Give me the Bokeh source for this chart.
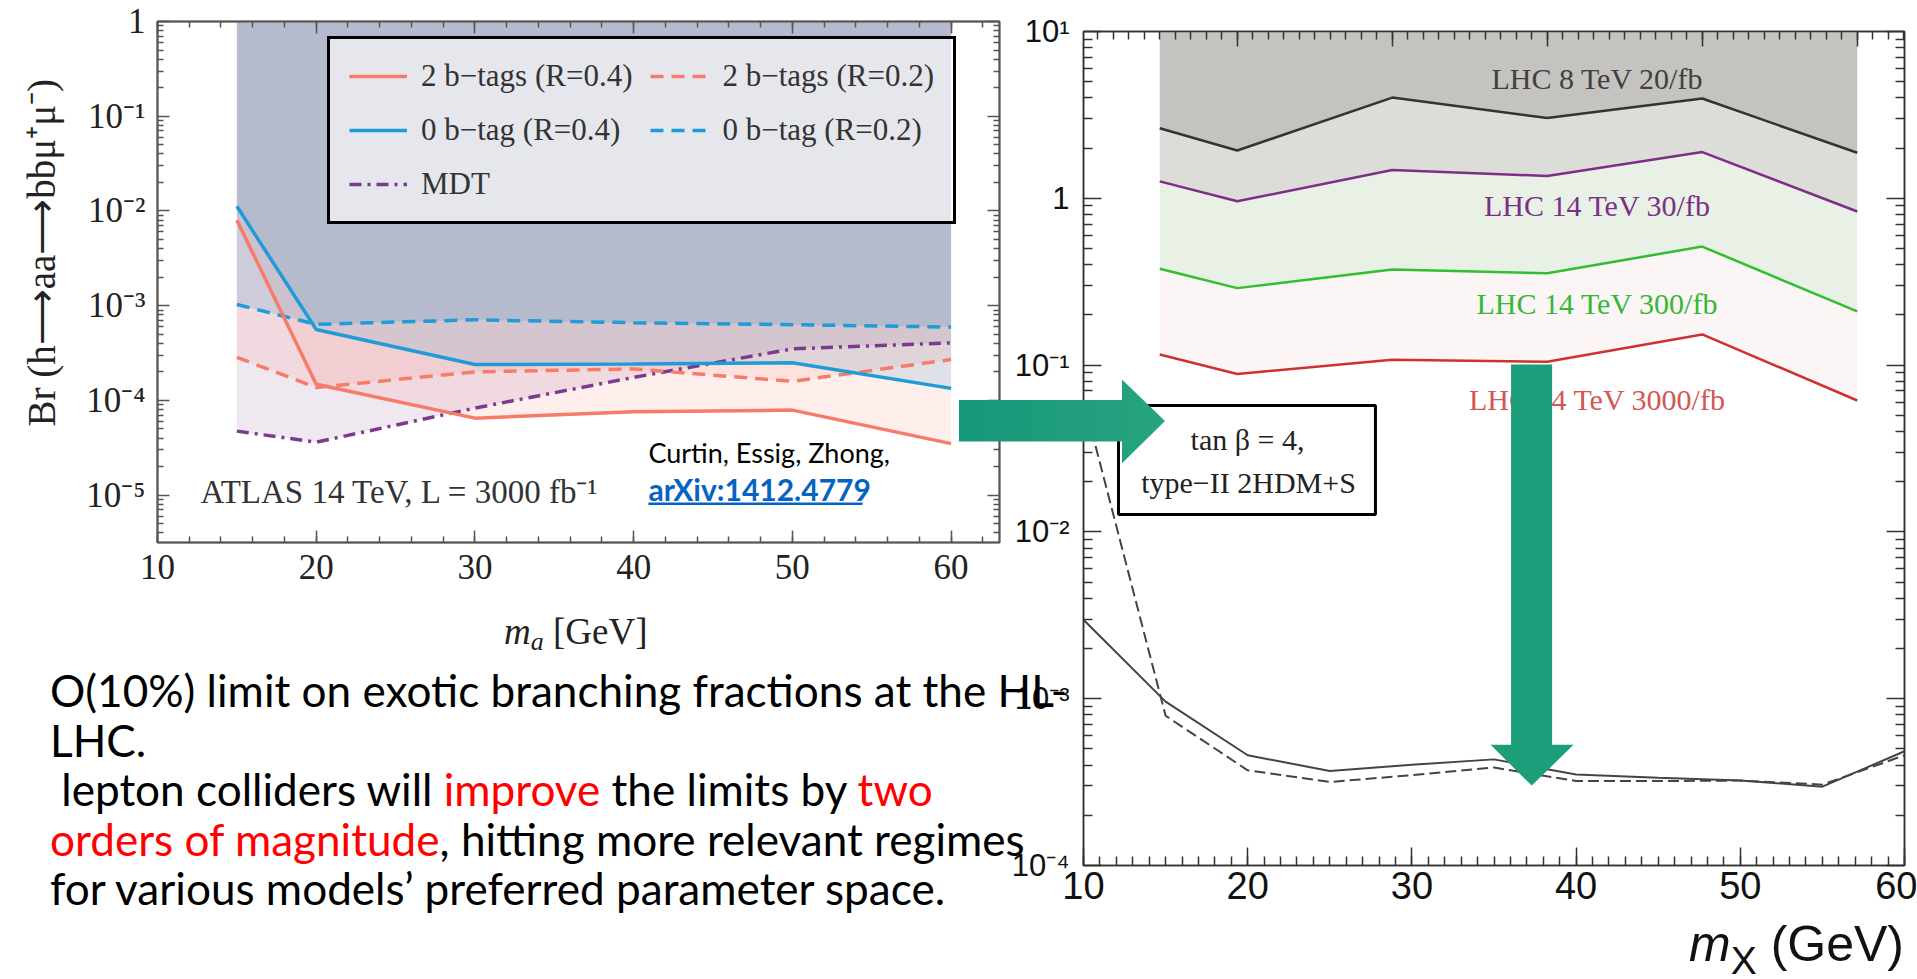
from bokeh.plotting import figure
from bokeh.layouts import row, column
from bokeh.models import (Range1d, LogScale, LinearScale, LinearAxis, LogAxis, FixedTicker,
                          SingleIntervalTicker, CustomJSTickFormatter, Legend, LegendItem,
                          Label, BoxAnnotation, PolyAnnotation, Div)
from bokeh.embed import file_html
from bokeh.resources import INLINE

# ---------------- data : left panel (h -> aa -> bb mu mu, ATLAS 14 TeV 3000/fb) ----------------
ma = [15, 20, 30, 40, 50, 60]
two_b_r04 = [8.0e-3, 1.48e-4, 6.5e-5, 7.6e-5, 7.9e-5, 3.5e-5]
two_b_r02 = [2.85e-4, 1.37e-4, 2.0e-4, 2.15e-4, 1.59e-4, 2.7e-4]
zero_b_r04 = [1.12e-2, 5.6e-4, 2.39e-4, 2.42e-4, 2.5e-4, 1.34e-4]
zero_b_r02 = [1.03e-3, 6.35e-4, 7.1e-4, 6.6e-4, 6.3e-4, 5.95e-4]
mdt = [4.74e-5, 3.62e-5, 8.3e-5, 1.75e-4, 3.5e-4, 4.05e-4]
left_labels = ["2 b\u2212tags (R=0.4)", "2 b\u2212tags (R=0.2)",
               "0 b\u2212tag (R=0.4)", "0 b\u2212tag (R=0.2)", "MDT"]

# ---------------- data : right panel, upper (LHC projections) ----------------
mx_up = [15, 20, 30, 40, 50, 60]
lhc8_20 = [2.69, 1.99, 4.08, 3.09, 4.03, 1.93]
lhc14_30 = [1.31, 1.0, 1.53, 1.41, 1.95, 0.871]
lhc14_300 = [0.401, 0.308, 0.396, 0.377, 0.541, 0.2245]
lhc14_3000 = [0.1253, 0.0962, 0.1167, 0.1135, 0.1644, 0.0671]
up_labels = ["LHC 8 TeV 20/fb", "LHC 14 TeV 30/fb", "LHC 14 TeV 300/fb", "LHC 14 TeV 3000/fb"]

# ---------------- data : right panel, lower (lepton collider) ----------------
mx_lo = [10, 15, 20, 25, 30, 35, 40, 45, 50, 55, 60]
lo_solid = [2.79e-3, 9.2e-4, 4.45e-4, 3.6e-4, 3.92e-4, 4.21e-4, 3.43e-4, 3.28e-4, 3.16e-4, 2.91e-4, 4.7e-4]
lo_dashed = [5.5e-2, 7.6e-4, 3.63e-4, 3.1e-4, 3.4e-4, 3.77e-4, 3.14e-4, 3.14e-4, 3.16e-4, 2.99e-4, 4.45e-4]

SERIF = "Liberation Serif"
SANS = "Liberation Sans"

SUP_JS = r"""
const e = Math.round(Math.log10(tick));
if (e === 0) { return "1"; }
const m = {"-": "\u207b", "0": "\u2070", "1": "\u00b9", "2": "\u00b2", "3": "\u00b3",
           "4": "\u2074", "5": "\u2075", "6": "\u2076", "7": "\u2077", "8": "\u2078", "9": "\u2079"};
return "10" + String(e).split("").map(c => m[c]).join("");
"""


def sup_fmt():
    return CustomJSTickFormatter(code=SUP_JS)


def empty_fmt():
    return CustomJSTickFormatter(code="return '';")


def style_axis(ax, font, size, color="#222", tin=12, tmin=6, lc="#555", lw=1.5):
    ax.major_label_text_font = font
    ax.major_label_text_font_size = size
    ax.major_label_text_color = color
    ax.major_tick_in = tin
    ax.major_tick_out = 0
    ax.minor_tick_in = tmin
    ax.minor_tick_out = 0
    ax.major_tick_line_color = lc
    ax.minor_tick_line_color = lc
    ax.major_tick_line_width = lw
    ax.minor_tick_line_width = lw
    ax.axis_line_color = lc
    ax.axis_line_width = lw


def hide_labels(ax):
    ax.formatter = empty_fmt()
    ax.major_label_text_font_size = "0px"
    ax.major_label_standoff = 0


def log_ticker(e0, e1):
    return FixedTicker(ticks=[10.0 ** e for e in range(e0, e1 + 1)],
                       minor_ticks=[m * 10.0 ** e for e in range(e0 - 1, e1 + 1) for m in range(2, 10)])


# ======================= LEFT FIGURE =======================
LY1 = 1.0
pl = figure(width=1003, height=604, x_range=Range1d(10, 63.05), y_range=Range1d(10 ** -5.5, LY1),
            y_axis_type="log", output_backend="svg", toolbar_location=None,
            min_border_left=157, min_border_right=4, min_border_top=21, min_border_bottom=62,
            background_fill_color="white", border_fill_color="white",
            outline_line_color="#555", outline_line_width=2)
pl.xgrid.visible = False
pl.ygrid.visible = False

top_l = [LY1] * len(ma)
for ys, col, a in [(mdt, "#7b3f8c", 0.12), (two_b_r04, "#f77b68", 0.12), (two_b_r02, "#f77b68", 0.12),
                   (zero_b_r04, "#2a8fc4", 0.14), (zero_b_r02, "#2a8fc4", 0.18)]:
    pl.varea(x=ma, y1=ys, y2=top_l, fill_color=col, fill_alpha=a)

r_mdt = pl.line(ma, mdt, line_color="#7a3b8f", line_width=3.5, line_dash="12 6 3 6")
r_rd = pl.line(ma, two_b_r02, line_color="#f77b68", line_width=3.5, line_dash="13 8")
r_bd = pl.line(ma, zero_b_r02, line_color="#1f9bd7", line_width=3.5, line_dash="13 8")
r_rs = pl.line(ma, two_b_r04, line_color="#f77b68", line_width=3.5)
r_bs = pl.line(ma, zero_b_r04, line_color="#1f9bd7", line_width=3.5)

legend = Legend(items=[LegendItem(label=left_labels[0], renderers=[r_rs]),
                       LegendItem(label=left_labels[1], renderers=[r_rd]),
                       LegendItem(label=left_labels[2], renderers=[r_bs]),
                       LegendItem(label=left_labels[3], renderers=[r_bd]),
                       LegendItem(label=left_labels[4], renderers=[r_mdt])],
                location=(170, 318), orientation="horizontal", ncols=2, margin=0,
                padding=19, spacing=18, glyph_width=58, glyph_height=36, label_standoff=14,
                label_text_font=SERIF, label_text_font_size="31px", label_text_color="#333",
                border_line_color="black", border_line_width=3, border_line_alpha=1,
                background_fill_color="white", background_fill_alpha=0.65)
pl.add_layout(legend)

xa = pl.xaxis[0]
xa.ticker = SingleIntervalTicker(interval=10, num_minor_ticks=5)
style_axis(xa, SERIF, "35px")
xa.major_label_standoff = 12

ya = pl.yaxis[0]
ya.ticker = log_ticker(-5, 0)
ya.formatter = sup_fmt()
style_axis(ya, SERIF, "35px")
ya.major_label_standoff = 12
ya.axis_label = "\u00a0" * 6 + "Br (h\u27f6aa\u27f6bb\u03bc\u207a\u03bc\u207b)"
ya.axis_label_text_font = SERIF
ya.axis_label_text_font_size = "39px"
ya.axis_label_text_font_style = "normal"
ya.axis_label_text_color = "#222"
ya.axis_label_standoff = 20

ta = LinearAxis(ticker=SingleIntervalTicker(interval=10, num_minor_ticks=5))
style_axis(ta, SERIF, "0px")
hide_labels(ta)
pl.add_layout(ta, "above")
ra = LogAxis(ticker=log_ticker(-5, 0))
style_axis(ra, SERIF, "0px")
hide_labels(ra)
pl.add_layout(ra, "right")

pl.add_layout(Label(x=12.71, y=10 ** -4.972, text="ATLAS 14 TeV, L = 3000 fb\u207b\u00b9",
                    text_font=SERIF, text_font_size="33px", text_color="#333", text_baseline="middle"))
pl.add_layout(Label(x=40.93, y=10 ** -4.55, text="Curtin, Essig, Zhong,", text_font="Lato",
                    text_font_size="27px", text_color="black", text_baseline="middle"))
pl.add_layout(Label(x=40.93, y=10 ** -4.94, text="arXiv:1412.4779", text_font="Lato",
                    text_font_style="bold", text_font_size="30px", text_color="#0563c1",
                    text_baseline="middle"))
pl.add_layout(BoxAnnotation(left=40.93, right=54.42, top=10 ** -5.078, bottom=10 ** -5.104,
                            fill_color="#0563c1", fill_alpha=1, line_color=None))

ARROW = "#1d9e7a"

# ======================= RIGHT FIGURE =======================
RY1 = 10.0
pr = figure(width=914, height=920, x_range=Range1d(10, 60), y_range=Range1d(1e-4, RY1),
            y_axis_type="log", output_backend="svg", toolbar_location=None,
            min_border_left=80, min_border_right=13, min_border_top=31, min_border_bottom=55,
            background_fill_color="white", border_fill_color="white",
            outline_line_color="#333", outline_line_width=1.5)
pr.xgrid.visible = False
pr.ygrid.visible = False
pr.extra_x_ranges = {"up": Range1d(10.08, 63.05)}
pr.extra_x_scales = {"up": LinearScale()}
pr.extra_y_ranges = {"up": Range1d(10 ** -3.912, RY1), "lo": Range1d(1e-4, 10 ** 0.906)}
pr.extra_y_scales = {"up": LogScale(), "lo": LogScale()}

top_r = [RY1] * len(mx_up)
for y1, y2, col in [(lhc8_20, top_r, "#c4c3bf"), (lhc14_30, lhc8_20, "#dcdcd8"),
                    (lhc14_300, lhc14_30, "#e9f1e6"), (lhc14_3000, lhc14_300, "#fcf5f5")]:
    pr.varea(x=mx_up, y1=y1, y2=y2, fill_color=col, fill_alpha=1,
             x_range_name="up", y_range_name="up")
for ys, col in [(lhc8_20, "#333333"), (lhc14_30, "#7d2e87"), (lhc14_300, "#2fbf2f"), (lhc14_3000, "#d03030")]:
    pr.line(mx_up, ys, line_color=col, line_width=2.5, x_range_name="up", y_range_name="up")

pr.line(mx_lo, lo_solid, line_color="#444444", line_width=2, y_range_name="lo")
pr.line(mx_lo, lo_dashed, line_color="#444444", line_width=2, line_dash="11 5", y_range_name="lo")

bx = pr.xaxis[0]
bx.ticker = SingleIntervalTicker(interval=10, num_minor_ticks=10)
style_axis(bx, SANS, "38px", color="#111", tin=18, tmin=9, lc="#333")
bx.major_label_standoff = 6

ly = pr.yaxis[0]
ly.ticker = log_ticker(-4, 1)
ly.formatter = sup_fmt()
style_axis(ly, SANS, "31px", color="#111", tin=18, tmin=9, lc="#333")
ly.major_label_standoff = 14

tx = LinearAxis(x_range_name="up", ticker=SingleIntervalTicker(interval=10, num_minor_ticks=10))
style_axis(tx, SANS, "0px", tin=15, tmin=8, lc="#333")
hide_labels(tx)
pr.add_layout(tx, "above")
ry = LogAxis(ticker=log_ticker(-4, 1))
style_axis(ry, SANS, "0px", tin=18, tmin=9, lc="#333")
hide_labels(ry)
pr.add_layout(ry, "right")

for txt, yv, col in [(up_labels[0], 10 ** 0.7206, "#404040"), (up_labels[1], 10 ** -0.0432, "#7b2f86"),
                     (up_labels[2], 10 ** -0.6307, "#35b835"), (up_labels[3], 10 ** -1.2062, "#d45555")]:
    pr.add_layout(Label(x=41.3, y=yv, text=txt, text_font=SERIF, text_font_size="30px",
                        text_color=col, text_align="center", text_baseline="middle"))

pr.add_layout(BoxAnnotation(left=12.13, right=27.78, top=10 ** -1.2422, bottom=10 ** -1.8957,
                            fill_color="white", fill_alpha=1, line_color="black",
                            line_alpha=1, line_width=3))
pr.add_layout(Label(x=19.99, y=10 ** -1.446, text="tan \u03b2 = 4,", text_font=SERIF,
                    text_font_size="30px", text_color="#222", text_align="center", text_baseline="middle"))
pr.add_layout(Label(x=20.05, y=10 ** -1.7038, text="type\u2212II 2HDM+S", text_font=SERIF,
                    text_font_size="30px", text_color="#222", text_align="center", text_baseline="middle"))

# vertical arrow (inside the frame)
pr.add_layout(PolyAnnotation(
    xs=[36.04, 38.54, 38.54, 39.84, 37.30, 34.79, 36.04],
    ys=[10 ** -0.9964, 10 ** -0.9964, 10 ** -3.2764, 10 ** -3.2764, 10 ** -3.521, 10 ** -3.2764, 10 ** -3.2764],
    fill_color=ARROW, fill_alpha=1, line_color=None))

# ======================= TEXT (HTML) =======================
RED = "#ff0000"
arrow_svg = (
    '<svg style="position:absolute;left:950px;top:-234px;overflow:visible" width="230" height="105">'
    '<defs><linearGradient id="ag" x1="0" x2="1" y1="0" y2="0">'
    '<stop offset="0" stop-color="#17977a"/><stop offset="1" stop-color="#27a47f"/></linearGradient></defs>'
    '<polygon points="9,30 172,30 172,9.6 215,51 172,93.3 172,71.6 9,71.6" fill="url(#ag)"/></svg>')
ma_title = ('<div style="position:absolute;left:504px;top:9px;font-family:\'Liberation Serif\';'
            'font-size:37px;line-height:37px;color:#222;white-space:nowrap;">'
            '<i>m</i><span style="font-size:26px;position:relative;top:6px;"><i>a</i></span>'
            '&nbsp;[GeV]</div>')
body = ('<div style="position:absolute;left:50px;top:61px;font-family:Lato;font-size:44.1px;'
        'line-height:49.5px;color:#000;white-space:nowrap;">'
        'O(10%) limit on exotic branching fractions at the HL-<br>'
        'LHC.<br>'
        '&nbsp;lepton colliders will <span style="color:' + RED + '">improve</span> the limits by '
        '<span style="color:' + RED + '">two</span><br>'
        '<span style="color:' + RED + '">orders of magnitude</span>, hitting more relevant regimes<br>'
        'for various models\u2019 preferred parameter space.</div>')
html = ('<div style="position:relative;width:1003px;height:375px;overflow:visible;">'
        + ma_title + body + arrow_svg + '</div>')
div = Div(text=html, width=1003, height=375, margin=0,
          styles={"overflow": "visible", "z-index": "10"})

mx_title = ('<div style="position:relative;width:914px;height:59px;overflow:visible;">'
            '<div style="position:absolute;right:13px;top:-1px;font-family:\'Liberation Sans\';'
            'font-size:50px;line-height:50px;color:#111;white-space:nowrap;">'
            '<i>m</i><span style="font-size:39px;position:relative;top:13px;">X</span>'
            '&nbsp;(GeV)</div></div>')
div2 = Div(text=mx_title, width=914, height=59, margin=0, styles={"overflow": "visible"})

layout = row(column(pl, div, spacing=0), column(pr, div2, spacing=0), spacing=0)
open("out.html", "w").write(file_html(layout, INLINE))
